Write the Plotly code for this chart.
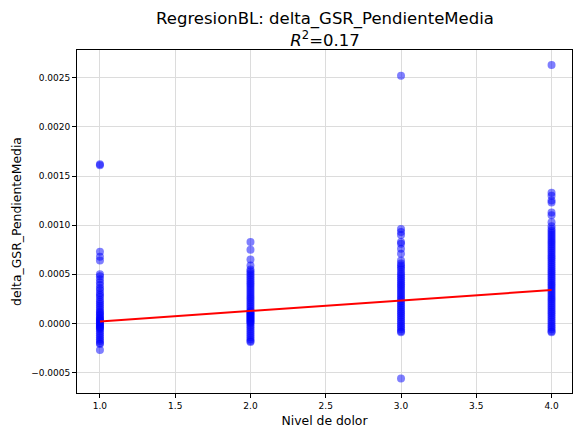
import plotly.graph_objects as go

# ---- data ----
pain_levels = [1, 2, 3, 4]

gsr_level1 = [0.00162, 0.00161, 0.00073, 0.00068, 0.00064, 0.00050, 0.00048,
              0.00045, 0.00042, 0.00039, 0.00036, 0.00034, 0.00031, 0.00029, 0.00027,
              0.00024, 0.00022, 0.00020, 0.00018, 0.00016, 0.00014, 0.00012, 0.00011,
              0.00009, 0.00008, 0.00006, 0.00005, 0.00004, 0.00003, 0.00002, 0.00001,
              0.00000, -0.00001, -0.00002, -0.00003, -0.00004, -0.00005, -0.00006,
              -0.00008, -0.00010, -0.00012, -0.00014, -0.00016, -0.00018, -0.00020,
              -0.00021, -0.00027]

gsr_level2 = [0.00083, 0.00075, 0.00065, 0.00059, 0.00055, 0.00053, 0.00051, 0.00049,
              0.00047, 0.00045, 0.00043, 0.00041, 0.00039, 0.00037, 0.00035, 0.00033,
              0.00031, 0.00029, 0.00027, 0.00025, 0.00023, 0.00021, 0.00019, 0.00017,
              0.00015, 0.00013, 0.00012, 0.00011, 0.00010, 0.00009, 0.00008, 0.00007,
              0.00006, 0.00005, 0.00004, 0.00003, 0.00002, 0.00001, 0.00000, -0.00002,
              -0.00004, -0.00006, -0.00008, -0.00010, -0.00012, -0.00014, -0.00016,
              -0.00018, -0.00019]

gsr_level3 = [0.00252, 0.00096, 0.00093, 0.00090, 0.00083, 0.00081, 0.00076, 0.00071,
              0.00064, 0.00061, 0.00059, 0.00057, 0.00055, 0.00052, 0.00050, 0.00048,
              0.00046, 0.00044, 0.00042, 0.00040, 0.00038, 0.00036, 0.00034, 0.00032,
              0.00030, 0.00028, 0.00026, 0.00024, 0.00022, 0.00020, 0.00018, 0.00016,
              0.00014, 0.00012, 0.00010, 0.00008, 0.00006, 0.00004, 0.00002, 0.00000,
              -0.00002, -0.00004, -0.00006, -0.00008, -0.00009, -0.00056]

gsr_level4 = [0.00263, 0.00133, 0.00130, 0.00125, 0.00123, 0.00113, 0.00110, 0.00103,
              0.00099, 0.00096, 0.00094, 0.00092, 0.00090, 0.00088, 0.00086, 0.00084,
              0.00082, 0.00080, 0.00078, 0.00076, 0.00074, 0.00072, 0.00070, 0.00068,
              0.00066, 0.00064, 0.00062, 0.00060, 0.00058, 0.00056, 0.00054, 0.00052,
              0.00050, 0.00048, 0.00046, 0.00044, 0.00042, 0.00040, 0.00038, 0.00036,
              0.00034, 0.00032, 0.00030, 0.00028, 0.00026, 0.00024, 0.00022, 0.00020,
              0.00018, 0.00016, 0.00014, 0.00012, 0.00010, 0.00008, 0.00006, 0.00004,
              0.00002, 0.00000, -0.00002, -0.00004, -0.00006, -0.00008, -0.00009]

fit_x = [1.0, 4.0]
fit_y = [0.00002, 0.00034]
r_squared = 0.17

x_tickvals = [1.0, 1.5, 2.0, 2.5, 3.0, 3.5, 4.0]
x_ticktext = ["1.0", "1.5", "2.0", "2.5", "3.0", "3.5", "4.0"]
y_tickvals = [-0.0005, 0.0, 0.0005, 0.0010, 0.0015, 0.0020, 0.0025]
y_ticktext = ["\u22120.0005", "0.0000", "0.0005", "0.0010", "0.0015", "0.0020", "0.0025"]

# ---- build figure ----
groups = [gsr_level1, gsr_level2, gsr_level3, gsr_level4]
xs, ys = [], []
for lvl, vals in zip(pain_levels, groups):
    xs += [lvl] * len(vals)
    ys += vals

FONT = "DejaVu Sans"

fig = go.Figure()
fig.add_trace(go.Scatter(
    x=xs, y=ys, mode="markers",
    marker=dict(size=8, color="rgba(0,0,255,0.5)", line=dict(width=0)),
    showlegend=False, hoverinfo="skip",
))
fig.add_trace(go.Scatter(
    x=fit_x, y=fit_y, mode="lines",
    line=dict(color="red", width=2),
    showlegend=False, hoverinfo="skip",
))

axis_common = dict(
    showline=True, linecolor="black", linewidth=1, mirror=True,
    ticks="outside", ticklen=4, tickwidth=1, tickcolor="black",
    showgrid=True, gridcolor="#dcdcdc", gridwidth=1,
    zeroline=False,
    tickfont=dict(family=FONT, size=9, color="black"),
)

fig.update_layout(
    width=574, height=428,
    margin=dict(l=77, r=1, t=50, b=33),
    paper_bgcolor="white", plot_bgcolor="white",
    font=dict(family=FONT, color="black"),
    title=dict(
        text="RegresionBL: delta_GSR_PendienteMedia<br><i>R</i><sup>2</sup>=%.2f" % r_squared,
        x=(77 + 573) / 2 / 574, xanchor="center",
        y=0.943, yanchor="top", yref="container",
        font=dict(family=FONT, size=16.5, color="black"),
    ),
    xaxis=dict(
        range=[0.8476, 4.1359], tickvals=x_tickvals, ticktext=x_ticktext,
        title=dict(text="Nivel de dolor", font=dict(family=FONT, size=12.4), standoff=8),
        **axis_common,
    ),
    yaxis=dict(
        range=[-0.000708, 0.002783], tickvals=y_tickvals, ticktext=y_ticktext,
        title=dict(text="delta_GSR_PendienteMedia", font=dict(family=FONT, size=12.4), standoff=6),
        **axis_common,
    ),
)

fig.write_html(
    "out.html",
    config={"displayModeBar": False},
    post_script="document.body.style.margin='0';document.body.style.overflow='hidden';",
)
